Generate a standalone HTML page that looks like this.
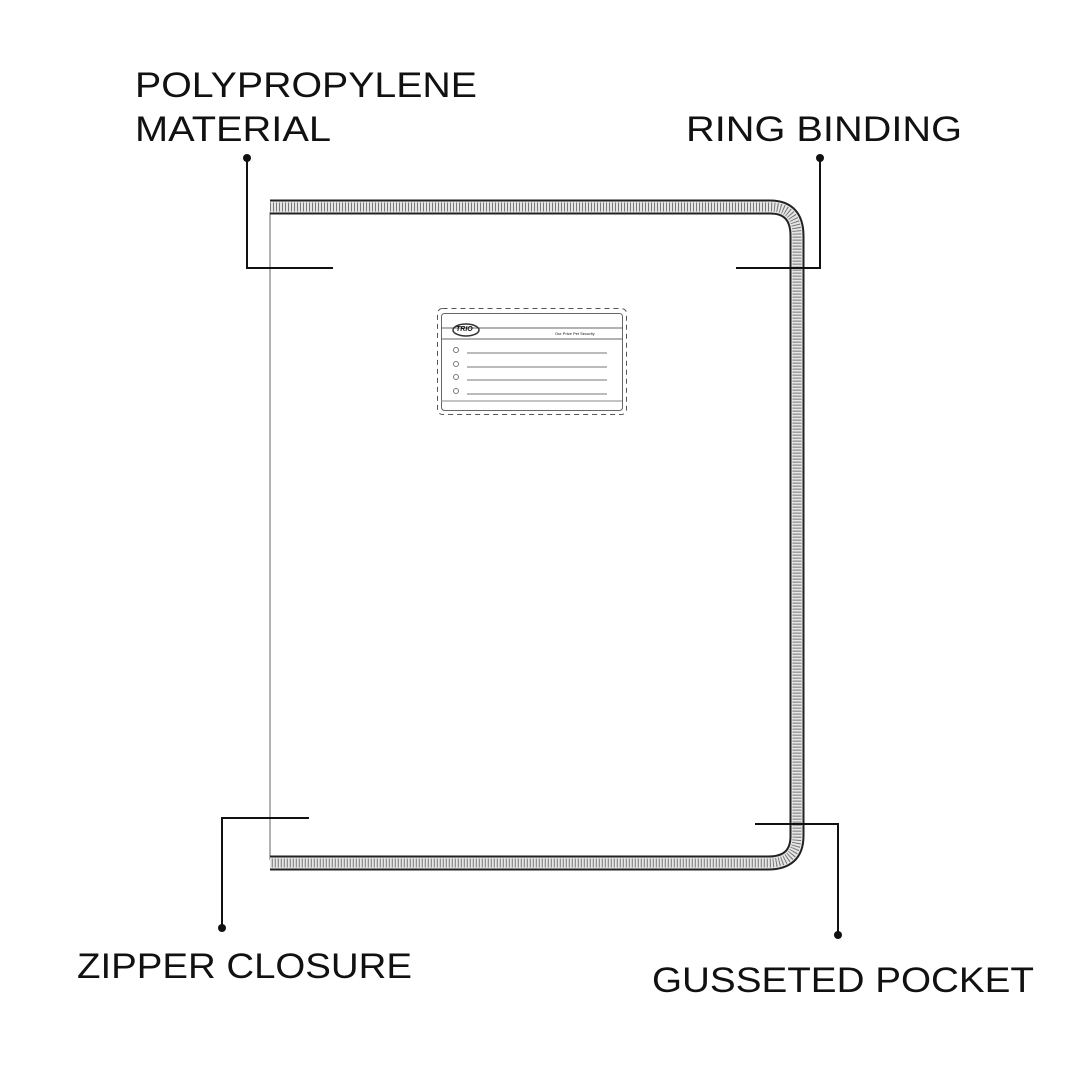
<!DOCTYPE html>
<html><head><style>
html,body{margin:0;padding:0;background:#fff;}
svg{display:block;}
text{font-family:"Liberation Sans",sans-serif;fill:#111;}
</style></head><body>
<svg width="1080" height="1080" viewBox="0 0 1080 1080">
<rect width="1080" height="1080" fill="#fff"/>
<!-- left edge -->
<line x1="270" y1="212" x2="270" y2="860" stroke="#999" stroke-width="1.5"/>
<!-- zipper band -->
<path id="z" d="M270,207 L770,207 Q797,207 797,236 L797,836 Q797,863 768,863 L270,863" fill="none" stroke="#222" stroke-width="15"/>
<path d="M270,207 L770,207 Q797,207 797,236 L797,836 Q797,863 768,863 L270,863" fill="none" stroke="#e6e6e6" stroke-width="11"/>
<path d="M270,207 L770,207 Q797,207 797,236 L797,836 Q797,863 768,863 L270,863" fill="none" stroke="#777" stroke-width="9" stroke-dasharray="1 2"/>
<!-- label card -->
<rect x="437.5" y="308.5" width="189" height="106" rx="5" fill="#fff" stroke="#555" stroke-dasharray="5 4"/>
<rect x="441.5" y="313.5" width="181" height="97" rx="3" fill="none" stroke="#666"/>
<line x1="441" y1="328" x2="622" y2="328" stroke="#666"/>
<line x1="441" y1="339" x2="622" y2="339" stroke="#666"/>
<line x1="441" y1="401" x2="622" y2="401" stroke="#888"/>
<ellipse cx="466" cy="330" rx="13" ry="6" fill="none" stroke="#333" stroke-width="1.5"/>
<text x="456" y="331" font-size="7" font-weight="bold" font-style="italic">TRIO</text>
<text x="555" y="335" font-size="4">Our Price Pet Security</text>
<g stroke="#777" fill="none">
<circle cx="456" cy="350" r="2.5"/><circle cx="456" cy="364" r="2.5"/><circle cx="456" cy="377" r="2.5"/><circle cx="456" cy="391" r="2.5"/>
<line x1="467" y1="353" x2="607" y2="353"/><line x1="467" y1="367" x2="607" y2="367"/><line x1="467" y1="380" x2="607" y2="380"/><line x1="467" y1="394" x2="607" y2="394"/>
</g>
<!-- leaders -->
<g stroke="#111" stroke-width="2" fill="none">
<polyline points="247,158 247,268 333,268"/>
<polyline points="820,158 820,268 736,268"/>
<polyline points="222,928 222,818 309,818"/>
<polyline points="838,935 838,824 755,824"/>
</g>
<g fill="#111">
<circle cx="247" cy="158" r="4"/><circle cx="820" cy="158" r="4"/>
<circle cx="222" cy="928" r="4"/><circle cx="838" cy="935" r="4"/>
</g>
<!-- labels -->
<g font-size="35">
<text x="135" y="97" textLength="342" lengthAdjust="spacingAndGlyphs">POLYPROPYLENE</text>
<text x="135" y="141" textLength="196" lengthAdjust="spacingAndGlyphs">MATERIAL</text>
<text x="686" y="141" textLength="276" lengthAdjust="spacingAndGlyphs">RING BINDING</text>
<text x="77" y="978" textLength="335" lengthAdjust="spacingAndGlyphs">ZIPPER CLOSURE</text>
<text x="652" y="992" textLength="382" lengthAdjust="spacingAndGlyphs">GUSSETED POCKET</text>
</g>
</svg>
</body></html>
